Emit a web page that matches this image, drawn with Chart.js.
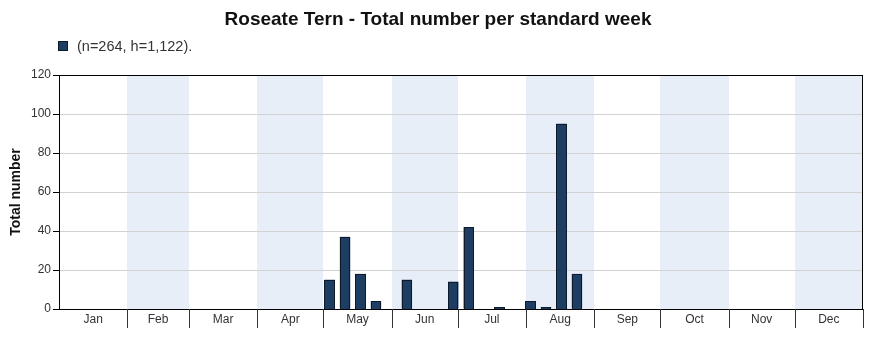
<!DOCTYPE html>
<html>
<head>
<meta charset="utf-8">
<script src="https://cdn.jsdelivr.net/npm/chart.js@4.4.1/dist/chart.umd.min.js"></script>
<style>
  html, body { margin: 0; padding: 0; background: #fff; }
  #wrap { width: 891px; height: 338px; position: relative; }
</style>
</head>
<body>
<div id="wrap"><canvas id="chart"></canvas></div>
<script>
const chartTitle = 'Roseate Tern - Total number per standard week';
const seriesLabel = '(n=264, h=1,122).';
const yTitle = 'Total number';

// standard weeks 1..52
const weekLabels = [
  1, 2, 3, 4, 5, 6, 7, 8, 9, 10, 11, 12, 13, 14, 15, 16, 17, 18, 19, 20, 21, 22, 23, 24, 25, 26,
  27, 28, 29, 30, 31, 32, 33, 34, 35, 36, 37, 38, 39, 40, 41, 42, 43, 44, 45, 46, 47, 48, 49, 50, 51, 52
];
const weeklyTotals = [
  0, 0, 0, 0, 0, 0, 0, 0, 0, 0, 0, 0, 0, 0, 0, 0, 0, 15, 37, 18, 4, 0, 15, 0, 0, 14,
  42, 0, 1, 0, 4, 1, 95, 18, 0, 0, 0, 0, 0, 0, 0, 0, 0, 0, 0, 0, 0, 0, 0, 0, 0, 0
];

const monthNames = ['Jan', 'Feb', 'Mar', 'Apr', 'May', 'Jun', 'Jul', 'Aug', 'Sep', 'Oct', 'Nov', 'Dec'];
const monthDays = [31, 28, 31, 30, 31, 30, 31, 31, 30, 31, 30, 31];
const yMin = 0, yMax = 120, yStep = 20;

const FONT = '"Liberation Sans", Arial, sans-serif';
const barFill = '#1d3d63';
const barEdge = '#0c1a2c';
const bandFill = '#e8eef8';

// month boundaries in day-of-year
const monthStarts = [];
let dayCount = 0;
monthDays.forEach(d => { monthStarts.push(dayCount); dayCount += d; });

const monthPlugin = {
    id: 'monthPlugin',
    beforeDraw(chart) {
        const { ctx, chartArea } = chart;
        const days = chart.scales.days;
        ctx.save();
        ctx.fillStyle = bandFill;
        monthStarts.forEach((start, i) => {
            if (i % 2 === 0) return;
            const x0 = Math.round(days.getPixelForValue(start));
            const x1 = Math.round(days.getPixelForValue(start + monthDays[i]));
            ctx.fillRect(x0, chartArea.top, x1 - x0, chartArea.bottom - chartArea.top);
        });
        ctx.restore();
    },
    afterDatasetsDraw(chart) {
        // crisp outline on each bar, snapped to whole pixels
        const { ctx } = chart;
        const ds = chart.data.datasets[0];
        ctx.save();
        chart.getDatasetMeta(0).data.forEach((bar, i) => {
            if (!ds.data[i]) return;
            const { x, y, base, width } = bar.getProps(['x', 'y', 'base', 'width'], true);
            const l = Math.round(x - width / 2);
            const r = Math.round(x + width / 2);
            const t = Math.round(y);
            const b = Math.round(base);
            ctx.fillStyle = barFill;
            ctx.fillRect(l, t, r - l, b - t);
            ctx.strokeStyle = barEdge;
            ctx.lineWidth = 1;
            ctx.strokeRect(l + 0.5, t + 0.5, r - l - 1, b - t);
        });
        ctx.restore();
    },
    afterDraw(chart) {
        const { ctx, chartArea } = chart;
        const days = chart.scales.days;
        ctx.save();

        // frame round the plot
        ctx.strokeStyle = '#000';
        ctx.lineWidth = 1;
        ctx.strokeRect(Math.round(chartArea.left) + 0.5, Math.round(chartArea.top) + 0.5,
            Math.round(chartArea.right - chartArea.left) - 1, Math.round(chartArea.bottom - chartArea.top));

        // month separators and names under the axis
        ctx.strokeStyle = '#333';
        ctx.font = '12px ' + FONT;
        ctx.fillStyle = '#333';
        ctx.textAlign = 'center';
        ctx.textBaseline = 'middle';
        monthStarts.forEach((start, i) => {
            const x0 = days.getPixelForValue(start);
            const x1 = days.getPixelForValue(start + monthDays[i]);
            const xe = Math.round(x1) + 0.5;
            ctx.beginPath();
            ctx.moveTo(xe, chartArea.bottom);
            ctx.lineTo(xe, chartArea.bottom + 19);
            ctx.stroke();
            ctx.fillText(monthNames[i], (x0 + x1) / 2, chartArea.bottom + 11);
        });

        // title
        ctx.fillStyle = '#111';
        ctx.font = 'bold 19px ' + FONT;
        ctx.fillText(chartTitle, 438, 20);

        // legend
        const ds = chart.data.datasets[0];
        ctx.fillStyle = ds.backgroundColor;
        ctx.fillRect(58, 41, 10, 10);
        ctx.strokeStyle = barEdge;
        ctx.strokeRect(58.5, 41.5, 9, 9);
        ctx.fillStyle = '#333';
        ctx.font = '14.5px ' + FONT;
        ctx.textAlign = 'left';
        ctx.fillText(ds.label, 77, 46.5);

        ctx.restore();
    }
};

new Chart(document.getElementById('chart'), {
    type: 'bar',
    data: {
        labels: weekLabels,
        datasets: [{
            label: seriesLabel,
            data: weeklyTotals,
            backgroundColor: barFill,
            borderWidth: 0,
            inflateAmount: 0,
            barPercentage: 0.67,
            categoryPercentage: 1
        }]
    },
    options: {
        responsive: true,
        maintainAspectRatio: false,
        animation: false,
        layout: { padding: { top: 75, right: 28, bottom: 29, left: 0 } },
        plugins: {
            legend: { display: false },
            title: { display: false },
            tooltip: { enabled: false }
        },
        scales: {
            x: { display: false },
            days: {
                type: 'linear',
                axis: 'x',
                position: 'bottom',
                display: false,
                offset: false,
                min: 0,
                max: dayCount
            },
            y: {
                min: yMin,
                max: yMax,
                ticks: {
                    stepSize: yStep,
                    color: '#333',
                    padding: 2,
                    font: { size: 12, family: FONT }
                },
                grid: {
                    color: c => (c.tick && c.tick.value === 0) ? '#000' : '#d2d2d2',
                    tickColor: '#000',
                    tickLength: 6
                },
                border: { color: '#000' },
                title: {
                    display: true,
                    text: yTitle,
                    color: '#111',
                    padding: { top: 8, bottom: 0 },
                    font: { size: 14, weight: 'bold', family: FONT }
                },
                afterFit: s => { s.width = 59; }
            }
        }
    },
    plugins: [monthPlugin]
});
</script>
</body>
</html>
